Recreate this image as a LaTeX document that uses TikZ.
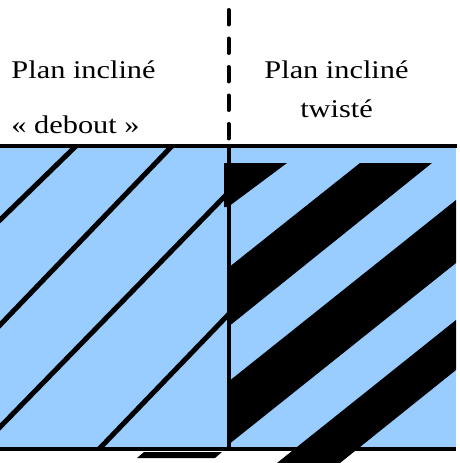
\documentclass[tikz,border=0pt]{standalone}
\usepackage{fontspec}
\setmainfont{Liberation Serif}[FakeStretch=1.19]
\definecolor{planblue}{RGB}{153,204,255}
\begin{document}
\begin{tikzpicture}[x=1pt,y=-1pt,
  lbl/.style={inner sep=0pt, outer sep=0pt, font=\fontsize{25.5}{30}\selectfont},
  hatch/.style={line width=5pt},
  stripe/.style={fill=black},
  border/.style={line width=4pt},
  sep/.style={line width=4pt, line cap=round, dash pattern=on 14.5pt off 14pt}]
\useasboundingbox (0,0) rectangle (459,463);
% blue planes
\fill[planblue] (0,146) rectangle (456,448);
% left plane: thin diagonal lines
\begin{scope}
  \clip (0,146) rectangle (228,448);
  \draw[hatch] (86.3,136) -- (-10,229.7);
  \draw[hatch] (181.6,136) -- (-9.6,335);
  \draw[hatch] (238,182.7) -- (-10,437.3);
  \draw[hatch] (238,304.6) -- (90,458.4);
\end{scope}
% right plane: wide black stripes
\fill[stripe] (224,163) -- (287,163) -- (228,207) -- (224,207) -- cycle;
\fill[stripe] (360,163) -- (432,163) -- (228,327) -- (228,268) -- cycle;
\fill[stripe] (456,200) -- (456,263) -- (228,445) -- (228,382) -- cycle;
\fill[stripe] (456,320) -- (456,370) -- (340,463) -- (277,463) -- cycle;
% small piece below the left plane
\fill[stripe] (144,452) -- (222,452) -- (215,458) -- (137,458) -- cycle;
% borders
\draw[border] (0,145.5) -- (457,145.5);
\draw[line width=3.5pt] (0,448.8) -- (456,448.8);
\coordinate (divtop) at (228.7,146);
\coordinate (divbot) at (228.7,449);
\draw[border] (divtop) -- (divbot);
% dashed separator above
\coordinate (septop) at (228.5,10);
\coordinate (sepbot) at (228.5,141);
\draw[sep] (septop) -- (sepbot);
% labels
\node[lbl, anchor=base west] (l1) at (11.5,78) {Plan incliné};
\node[lbl, anchor=base west] (l2) at (11.5,133) {«~debout~»};
\node[lbl, anchor=base] (r1) at (336.5,78) {Plan incliné};
\node[lbl, anchor=base] (r2) at (336.5,117) {twisté};
\end{tikzpicture}
\end{document}
